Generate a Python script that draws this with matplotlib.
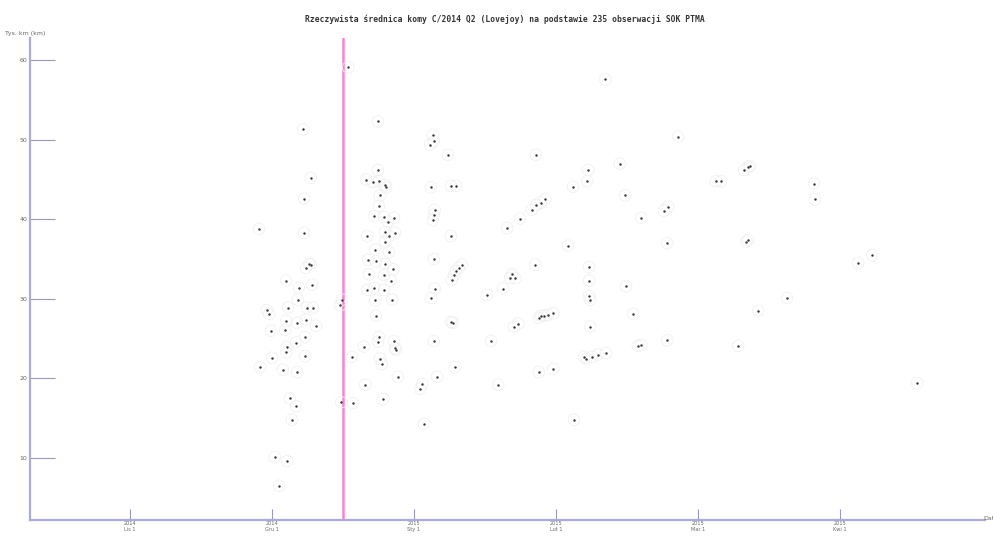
import matplotlib
matplotlib.use('Agg')
import matplotlib.pyplot as plt

# dni liczone od pierwszego znacznika osi X
dni = [27.3, 27.5, 28.9, 29.4, 29.8, 30.0, 30.6, 31.5, 33.2, 33.0, 33.4, 33.0, 32.8, 33.2, 33.0,
       32.3, 33.8, 34.2, 35.1, 35.3, 35.1, 35.3, 35.5, 35.7, 36.6, 36.8, 36.8, 37.2, 37.8, 37.4,
       37.2, 37.0, 37.0, 38.2, 38.2, 38.5, 38.7, 39.3,
       44.4, 44.8, 44.6, 46.1,
       46.9, 47.1, 49.4, 49.7, 49.9, 50.1, 50.3, 50.5, 50.1, 51.3, 51.6, 51.8, 52.0, 51.6, 51.8,
       52.0, 52.4, 52.4, 52.6, 52.8, 52.6, 52.4, 52.6, 52.8, 53.2, 53.5, 53.9, 54.1, 53.7, 53.9,
       53.9, 53.9, 53.7, 53.7, 54.5, 54.7, 54.7, 55.1, 55.4, 55.8, 56.0, 56.2, 56.6, 55.8, 56.0,
       55.6,
       61.3, 61.7, 62.1, 63.4, 64.0, 64.2, 63.6, 64.0, 64.2, 64.4, 63.6, 64.2, 64.4, 64.2, 64.9,
       67.2, 67.8, 67.8, 68.0, 67.8, 68.5, 68.9, 69.5, 70.2, 68.9, 68.7, 68.2,
       75.4, 76.3, 77.8, 78.8, 79.7, 80.3, 80.7, 81.4, 81.1, 82.0, 82.4, 84.9, 85.6, 85.8, 86.4,
       86.8, 87.5, 88.3, 89.4, 85.8, 86.8, 87.7, 86.4, 89.4, 92.5, 93.8, 93.6, 96.6, 96.8, 97.0,
       97.0, 97.0, 97.2, 97.2, 95.9, 96.4, 97.6, 98.9, 100.6, 100.4, 103.5, 104.6, 104.8, 106.3,
       107.3, 108.0, 108.0, 112.8, 113.7, 113.5, 113.5, 115.8, 123.8, 124.9, 128.5, 129.7, 130.6,
       131.0, 130.2, 130.6, 132.7, 138.8, 144.5, 144.7, 153.8, 156.8, 166.3]
srednica = [38.8, 21.4, 28.6, 28.1, 26.0, 22.6, 10.1, 6.5, 9.6, 32.3, 28.9, 27.2, 26.1, 24.0, 23.3,
            21.1, 17.5, 14.8, 16.5, 20.8, 24.5, 27.0, 29.9, 31.4, 51.3, 42.6, 38.3, 33.9, 34.4, 28.9,
            27.4, 25.2, 22.8, 45.2, 34.3, 31.8, 28.9, 26.6,
            29.2, 29.9, 17.0, 59.1,
            22.7, 16.9, 24.0, 19.2, 45.0, 37.9, 34.9, 33.1, 31.1, 44.7, 40.4, 36.2, 34.7, 31.4, 29.8,
            27.9, 52.3, 46.2, 44.8, 43.0, 41.7, 24.6, 25.2, 22.5, 21.8, 17.4, 44.3, 44.0, 40.3, 38.4,
            37.2, 34.4, 33.0, 31.1, 39.7, 37.9, 35.9, 32.3, 29.9, 24.7, 23.8, 23.6, 20.2, 40.2, 38.3,
            33.7,
            18.7, 19.3, 14.3, 49.4, 50.6, 49.8, 44.0, 39.9, 40.6, 41.2, 30.1, 35.0, 31.3, 24.7, 20.2,
            48.1, 44.2, 37.9, 32.4, 27.1, 33.0, 33.5, 33.9, 34.3, 44.2, 21.4, 27.0,
            30.5, 24.7, 19.2, 31.3, 38.9, 32.6, 33.1, 32.6, 26.5, 26.9, 40.1, 41.2, 34.3, 48.1, 27.6,
            27.9, 27.9, 28.0, 28.2, 41.8, 42.1, 42.5, 20.8, 21.2, 36.7, 14.8, 44.1, 44.8, 46.2, 34.0,
            32.3, 30.4, 29.9, 26.5, 22.7, 22.5, 22.7, 23.0, 23.2, 57.6, 47.0, 43.0, 31.6, 28.1,
            24.1, 24.2, 40.2, 41.1, 41.6, 37.0, 24.8, 50.4, 44.8, 44.8, 24.1, 46.2, 46.6,
            46.7, 37.2, 37.4, 28.5, 30.1, 44.5, 42.5, 34.5, 35.5, 19.4]

dzien_znacznika = [0, 30, 60, 90, 120, 150]
etykiety_x = ['2014\nLis 1', '2014\nGru 1', '2015\nSty 1', '2015\nLut 1', '2015\nMar 1', '2015\nKwi 1']
wartosci_y = [10, 20, 30, 40, 50, 60]
dzien_linii = 45.0

os_kolor = '#aaaadd'
tekst_kolor = '#666666'

fig = plt.figure(figsize=(9.93, 5.36), dpi=100)
ax = fig.add_axes([0.0302, 0.0299, 0.9617, 0.8993])

ax.scatter(dni, srednica, s=70, facecolors='none', edgecolors='#f0f0f0', linewidths=0.6, zorder=2)
ax.scatter(dni, srednica, s=3, color='#333333', zorder=3, linewidths=0)
ax.axvline(dzien_linii, color='#ff80d0', lw=1.8, zorder=1)

ax.set_xlim(-21.1, 180.6)
ax.set_ylim(2.2, 62.8)

for s in ['top', 'right']:
    ax.spines[s].set_visible(False)
for s in ['left', 'bottom']:
    ax.spines[s].set_color(os_kolor)
    ax.spines[s].set_linewidth(1.6)

ax.set_xticks(dzien_znacznika)
ax.set_xticklabels(etykiety_x, fontsize=3.6, color=tekst_kolor, linespacing=1.1)
ax.set_yticks(wartosci_y)
ax.set_yticklabels([str(v) for v in wartosci_y], fontsize=4.5, color=tekst_kolor)
ax.tick_params(axis='x', direction='in', length=8, width=0.8, color='#9999bb', pad=1)
ax.tick_params(axis='y', direction='in', length=18, width=0.8, color='#9999bb', pad=2)

fig.text(0.508, 0.965, 'Rzeczywista średnica komy C/2014 Q2 (Lovejoy) na podstawie 235 obserwacji SOK PTMA',
         ha='center', va='center', fontsize=5.8, family='DejaVu Sans Mono', weight='bold', color='#333333')
fig.text(0.005, 0.938, 'Tys. km (km)', ha='left', va='center', fontsize=4.5, color=tekst_kolor)
fig.text(0.990, 0.032, 'Dat', ha='left', va='center', fontsize=4.5, color=tekst_kolor)

fig.savefig('out.png', dpi=100, facecolor='white')
